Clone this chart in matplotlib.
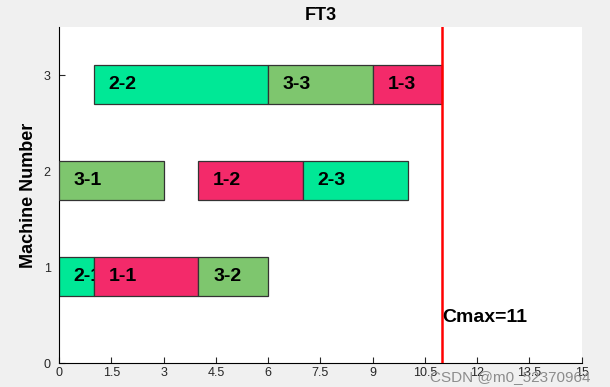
import matplotlib
matplotlib.use("Agg")
import matplotlib.pyplot as plt
from matplotlib.patches import Rectangle

plt.rcParams["font.family"] = ["Liberation Sans", "DejaVu Sans"]

# schedule: one entry per operation, in drawing order
machines = [1, 1, 1, 2, 2, 2, 3, 3, 3]
labels = ["2-1", "1-1", "3-2", "3-1", "1-2", "2-3", "2-2", "3-3", "1-3"]
starts = [0, 1, 4, 0, 4, 7, 1, 6, 9]
durations = [1, 3, 2, 3, 3, 3, 5, 3, 2]
job_colors = {"1": "#F32A6A", "2": "#00E896", "3": "#7EC66E"}
cmax = 11
x_ticks = [0, 1.5, 3, 4.5, 6, 7.5, 9, 10.5, 12, 13.5, 15]
y_ticks = [0, 1, 2, 3]

fig = plt.figure(figsize=(6.1, 3.87), dpi=100, facecolor="#F0F0F0")
ax = fig.add_axes([0.0967, 0.062, 0.857, 0.868])
ax.set_facecolor("white")

for i, (m, lab, s, d) in enumerate(zip(machines, labels, starts, durations)):
    ax.add_patch(Rectangle((s, m - 0.3), d, 0.4, facecolor=job_colors[lab[0]],
                           edgecolor="#333333", linewidth=0.9, zorder=2 * i + 2))
    ax.text(s + 0.42, m - 0.1, lab, fontsize=14, fontweight="bold", ha="left",
            va="center", zorder=2 * i + 3)

ax.axvline(cmax, color="red", linewidth=1.8, zorder=50)
ax.text(cmax, 0.47, f"Cmax={cmax}", fontsize=14, fontweight="bold", ha="left",
        va="center", zorder=51)

ax.set_xlim(0, 15)
ax.set_ylim(0, 3.5)
ax.set_xticks(x_ticks)
ax.set_xticklabels([f"{t:g}" for t in x_ticks])
ax.set_yticks(y_ticks)
for side in ("top", "right"):
    ax.spines[side].set_visible(False)
ax.tick_params(direction="in", length=4, labelsize=9, colors="#262626", pad=3)
ax.tick_params(axis="y", pad=6)
ax.set_ylabel("Machine Number", fontsize=13, fontweight="bold", labelpad=5)
ax.set_title("FT3", fontsize=13, fontweight="bold", pad=5)

fig.text(0.705, 0.026, "CSDN @m0_52370964", fontsize=11, color="#8C8C8C",
         ha="left", va="center")

fig.savefig("out.png", dpi=100, facecolor=fig.get_facecolor())
